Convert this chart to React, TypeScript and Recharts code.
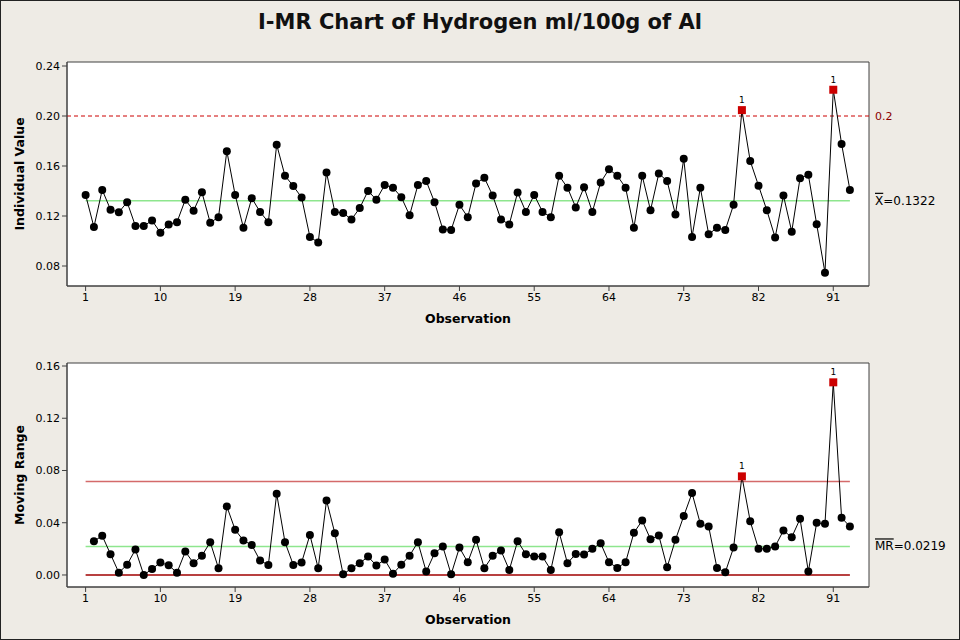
import React from 'react'
import {
  LineChart,
  Line,
  XAxis,
  YAxis,
  CartesianGrid,
  ReferenceLine,
  ReferenceArea,
} from 'recharts';

// individual hydrogen readings, observation 1..93
const individual = [
  0.1369, 0.1112, 0.1409, 0.1251, 0.1230, 0.1311, 0.1120, 0.1120, 0.1164, 0.1067,
  0.1133, 0.1151, 0.1330, 0.1243, 0.1390, 0.1146, 0.1191, 0.1719, 0.1369, 0.1106,
  0.1343, 0.1233, 0.1151, 0.1771, 0.1522, 0.1440, 0.1348, 0.1033, 0.0988, 0.1548,
  0.1233, 0.1225, 0.1172, 0.1264, 0.1401, 0.1330, 0.1448, 0.1427, 0.1351, 0.1206,
  0.1448, 0.1480, 0.1311, 0.1093, 0.1088, 0.1290, 0.1191, 0.1461, 0.1506, 0.1364,
  0.1172, 0.1133, 0.1388, 0.1233, 0.1369, 0.1233, 0.1191, 0.1522, 0.1427, 0.1269,
  0.1430, 0.1233, 0.1469, 0.1574, 0.1522, 0.1427, 0.1106, 0.1522, 0.1246, 0.1540,
  0.1480, 0.1212, 0.1658, 0.1033, 0.1427, 0.1054, 0.1106, 0.1088, 0.1290, 0.2047,
  0.1640, 0.1443, 0.1246, 0.1028, 0.1364, 0.1075, 0.1503, 0.1530, 0.1135, 0.0746,
  0.2210, 0.1777, 0.1409,
];

// moving ranges (first one has none)
const movingRange = [
  null, 0.0259, 0.0300, 0.0159, 0.0018, 0.0079, 0.0195, 0.0000, 0.0046, 0.0095,
  0.0074, 0.0018, 0.0179, 0.0090, 0.0148, 0.0251, 0.0051, 0.0525, 0.0346, 0.0264,
  0.0230, 0.0110, 0.0077, 0.0622, 0.0251, 0.0077, 0.0095, 0.0307, 0.0051, 0.0571,
  0.0320, 0.0005, 0.0051, 0.0090, 0.0141, 0.0072, 0.0118, 0.0010, 0.0079, 0.0148,
  0.0251, 0.0026, 0.0166, 0.0218, 0.0005, 0.0210, 0.0097, 0.0269, 0.0051, 0.0148,
  0.0187, 0.0038, 0.0259, 0.0159, 0.0141, 0.0141, 0.0038, 0.0328, 0.0090, 0.0161,
  0.0156, 0.0200, 0.0243, 0.0097, 0.0054, 0.0097, 0.0323, 0.0417, 0.0274, 0.0302,
  0.0059, 0.0269, 0.0451, 0.0627, 0.0392, 0.0371, 0.0054, 0.0020, 0.0210, 0.0755,
  0.0412, 0.0200, 0.0200, 0.0218, 0.0340, 0.0289, 0.0430, 0.0026, 0.0399, 0.0392,
  0.1475, 0.0438, 0.0371,
];

const xTicks = [1, 10, 19, 28, 37, 46, 55, 64, 73, 82, 91];
const iTicks = [0.08, 0.12, 0.16, 0.20, 0.24];
const mrTicks = [0.00, 0.04, 0.08, 0.12, 0.16];

const xBar = 0.1322;
const specLimit = 0.2;
const mrBar = 0.0219;
const mrUcl = 0.0715;
const mrLcl = 0;

const flaggedI = [80, 91];
const flaggedMR = [80, 91];

const iData = individual.map((v, i) => ({obs: i + 1, value: v}));
const mrData = movingRange.map((v, i) => ({obs: i + 1, value: v}));

const FONT = '"DejaVu Sans", Verdana, sans-serif';
const xDomain = [-1.24, 95.3];
const iDomain = [0.064, 0.2432];
const mrDomain = [-0.0092, 0.1623];

const tickStyle = {fontSize: 11, fill: '#000', fontFamily: FONT};
const titleStyle = {fontSize: 12.5, fontWeight: 'bold', fill: '#000', fontFamily: FONT};

const makeDot = (flags: number[]) => (p: any) => {
  const {cx, cy, payload, index} = p;
  if (cx == null || cy == null || payload.value == null) return <g key={'d' + index} />;
  if (flags.includes(payload.obs)) {
    return <g key={'d' + index}>
      <rect x={cx - 4} y={cy - 4} width={8} height={8} fill="#cc0000" />
      <text x={cx} y={cy - 7} textAnchor="middle" fontSize={9} fontFamily={FONT} fill="#000">1</text>
    </g>;
  }
  return <circle key={'d' + index} cx={cx} cy={cy} r={4} fill="#000" />;
};

const yTitle = (text: string) => ({
  content: (p: any) => {
    const vb = p.viewBox || {x: 0, y: 0, width: 0, height: 0};
    const x = vb.x + 19;
    const y = vb.y + vb.height / 2;
    return <text x={x} y={y} transform={`rotate(-90 ${x} ${y})`} textAnchor="middle"
                 dominantBaseline="central" style={titleStyle}>{text}</text>;
  }
});

const rightLabel = (node: React.ReactNode, color: string, size: number) => ({
  content: (p: any) => {
    const vb = p.viewBox || {x: 0, y: 0, width: 0};
    return <text x={vb.x + vb.width + 6} y={vb.y} dominantBaseline="central"
                 fontSize={size} fontFamily={FONT} fill={color}>{node}</text>;
  }
});

const App = () => {
  return <div style={{position: 'absolute', left: 0, top: 0, width: 960, height: 640,
                      background: '#eeebe5', boxShadow: 'inset 0 0 0 1px #222', fontFamily: FONT}}>
    <div style={{position: 'absolute', left: 0, top: 10, width: 960, textAlign: 'center',
                 fontSize: 21, fontWeight: 'bold', color: '#111'}}>
      I-MR Chart of Hydrogen ml/100g of Al
    </div>

    <div style={{position: 'absolute', left: 0, top: 0}}>
      <LineChart width={960} height={330} data={iData}
                 margin={{top: 62, right: 91, bottom: 4, left: 0}}>
        <CartesianGrid fill="#fff" horizontal={false} vertical={false} />
        <XAxis dataKey="obs" type="number" domain={xDomain} ticks={xTicks} allowDataOverflow
               height={40} tick={tickStyle} tickSize={5} stroke="#404040"
               label={{value: 'Observation', position: 'insideBottom', offset: 3, style: titleStyle}} />
        <YAxis type="number" domain={iDomain} ticks={iTicks} allowDataOverflow width={67}
               tick={tickStyle} tickSize={5} stroke="#404040"
               tickFormatter={(v: number) => v.toFixed(2)}
               label={yTitle('Individual Value')} />
        <ReferenceArea x1={xDomain[0]} x2={xDomain[1]} y1={iDomain[0]} y2={iDomain[1]}
                       fill="none" stroke="#404040" strokeWidth={1} />
        <ReferenceLine y={specLimit} stroke="#cc0000" strokeDasharray="4 3"
                       label={rightLabel('0.2', '#8b0000', 11)} />
        <ReferenceLine segment={[{x: 1, y: xBar}, {x: 93, y: xBar}]} stroke="#8ee68e" strokeWidth={1.5} />
        <ReferenceLine y={xBar} stroke="none"
                       label={rightLabel(<><tspan textDecoration="overline">X</tspan>=0.1322</>, '#000', 12)} />
        <Line type="linear" dataKey="value" stroke="#000" strokeWidth={1}
              dot={makeDot(flaggedI)} activeDot={false} isAnimationActive={false} />
      </LineChart>
    </div>

    <div style={{position: 'absolute', left: 0, top: 330}}>
      <LineChart width={960} height={310} data={mrData}
                 margin={{top: 33, right: 91, bottom: 13, left: 0}}>
        <CartesianGrid fill="#fff" horizontal={false} vertical={false} />
        <XAxis dataKey="obs" type="number" domain={xDomain} ticks={xTicks} allowDataOverflow
               height={40} tick={tickStyle} tickSize={5} stroke="#404040"
               label={{value: 'Observation', position: 'insideBottom', offset: 3, style: titleStyle}} />
        <YAxis type="number" domain={mrDomain} ticks={mrTicks} allowDataOverflow width={67}
               tick={tickStyle} tickSize={5} stroke="#404040"
               tickFormatter={(v: number) => v.toFixed(2)}
               label={yTitle('Moving Range')} />
        <ReferenceArea x1={xDomain[0]} x2={xDomain[1]} y1={mrDomain[0]} y2={mrDomain[1]}
                       fill="none" stroke="#404040" strokeWidth={1} />
        <ReferenceLine segment={[{x: 1, y: mrUcl}, {x: 93, y: mrUcl}]} stroke="#d46a6a" strokeWidth={1.5} />
        <ReferenceLine segment={[{x: 1, y: mrBar}, {x: 93, y: mrBar}]} stroke="#8ee68e" strokeWidth={1.5} />
        <ReferenceLine segment={[{x: 1, y: mrLcl}, {x: 93, y: mrLcl}]} stroke="#a00000" strokeWidth={1.5} />
        <ReferenceLine y={mrBar} stroke="none"
                       label={rightLabel(<><tspan textDecoration="overline">MR</tspan>=0.0219</>, '#000', 12)} />
        <Line type="linear" dataKey="value" stroke="#000" strokeWidth={1} connectNulls={false}
              dot={makeDot(flaggedMR)} activeDot={false} isAnimationActive={false} />
      </LineChart>
    </div>
  </div>
};

export default App;
